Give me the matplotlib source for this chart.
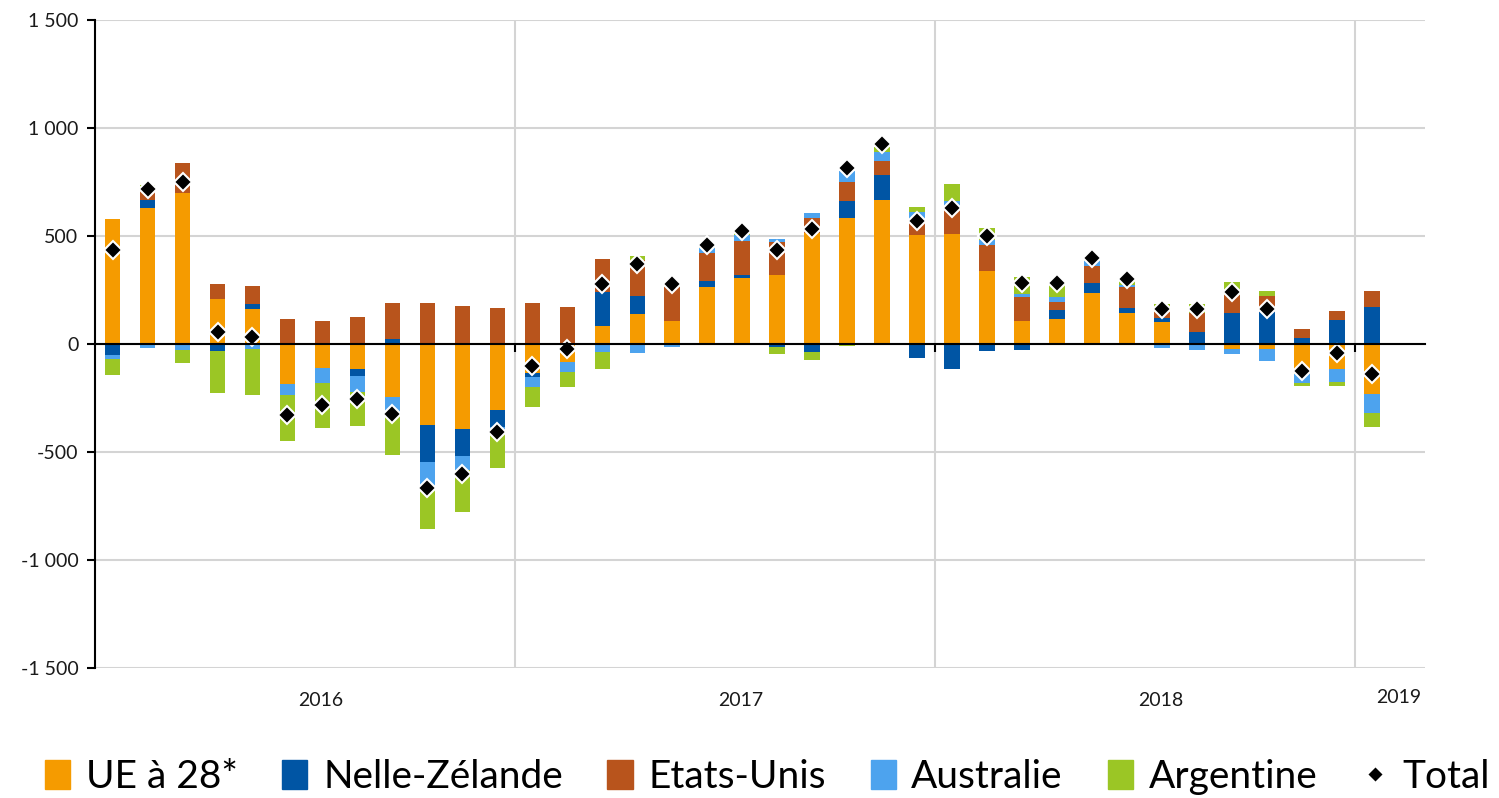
import numpy as np
import matplotlib.pyplot as plt
from matplotlib.patches import Patch
from matplotlib.lines import Line2D

plt.rcParams['font.family'] = ['Lato', 'DejaVu Sans']

# monthly values, Jan 2016 .. Jan 2019
years = ['2016', '2017', '2018', '2019']
ue = [577, 628, 697, 207, 161, -187, -110, -116, -244, -375, -394, -306,
      -136, -82, 85, 139, 106, 265, 304, 319, 512, 585, 667, 505,
      509, 338, 108, 116, 235, 145, 103, -5, -22, -22, -139, -117,
      -231]
nz = [-50, 38, 0, -35, 24, 0, 0, -32, 22, -170, -127, -77,
      -15, 5, 157, 83, 0, 28, 15, -15, -38, 78, 115, -66,
      -116, -31, -28, 41, 46, 20, 16, 57, 145, 150, 29, 111,
      173]
us = [0, 48, 140, 71, 85, 116, 108, 126, 166, 188, 177, 165,
      188, 168, 152, 167, 156, 127, 159, 155, 73, 88, 67, 69,
      118, 120, 108, 36, 80, 100, 30, 85, 82, 72, 40, 43,
      74]
aus = [-20, -20, -30, 0, -25, -49, -72, -73, -69, -115, -62, -23,
       -49, -46, -36, -40, -15, 23, 26, 12, 23, 50, 41, 39,
       35, 23, 14, 26, 23, 8, -18, -23, -24, -57, -43, -57,
       -87]
arg = [-73, 20, -56, -190, -211, -212, -208, -159, -201, -198, -196, -169,
       -90, -70, -81, 18, 25, 15, 20, -31, -36, -8, 23, 23,
       77, 54, 79, 58, 10, 23, 36, 43, 62, 23, -12, -22,
       -65]
total = [435, 717, 751, 54, 34, -329, -282, -255, -324, -668, -602, -409,
         -102, -23, 276, 369, 276, 458, 525, 435, 531, 813, 926, 571,
         631, 501, 281, 284, 400, 299, 162, 160, 242, 162, -125, -40,
         -139]

series = [
    ('UE à 28*', ue, '#F59B00'),
    ('Nelle-Zélande', nz, '#0055A4'),
    ('Etats-Unis', us, '#B8541C'),
    ('Australie', aus, '#4DA3EE'),
    ('Argentine', arg, '#9BC625'),
]

n_slots = 38
x = np.arange(len(ue))

fig = plt.figure(figsize=(14.99, 7.98), dpi=100)
ax = fig.add_axes([0.0634, 0.163, 0.887, 0.812])

pos = np.zeros(len(ue))
neg = np.zeros(len(ue))
for name, vals, col in series:
    v = np.array(vals, dtype=float)
    bottom = np.where(v >= 0, pos, neg)
    ax.bar(x, v, 0.45, bottom=bottom, color=col, zorder=3)
    pos += np.clip(v, 0, None)
    neg += np.clip(v, None, 0)

ax.plot(x, total, 'D', color='black', mec='white', mew=1.5, ms=9, zorder=4)

ax.set_xlim(-0.5, n_slots - 0.5)
ax.set_ylim(-1500, 1500)
yt = np.arange(-1500, 1501, 500)
ax.set_yticks(yt)
ax.set_yticklabels([f'{v:,}'.replace(',', ' ') for v in yt], fontsize=14, color='#1a1a1a')
ax.grid(axis='y', color='#D4D4D4', lw=1.5, zorder=0)

# year boundaries
bounds = [11.5, 23.5, 35.5]
ax.set_xticks(bounds)
ax.set_xticklabels([])
ax.grid(axis='x', color='#D4D4D4', lw=1.5, zorder=0)
ax.spines['bottom'].set_position(('data', 0))
ax.spines['bottom'].set_linewidth(1.5)
ax.spines['bottom'].set_zorder(5)
ax.tick_params(axis='x', length=6, width=1.5, direction='out')
ax.tick_params(axis='y', length=6, width=1.5, direction='out', pad=6)
ax.spines['left'].set_linewidth(1.5)
ax.spines['top'].set_visible(False)
ax.spines['right'].set_visible(False)

centers = [5.95, 17.95, 29.95, 36.75]
for yr, c in zip(years, centers):
    dy = -0.05 if yr != '2019' else -0.045
    ax.text(c, dy, yr, transform=ax.get_xaxis_transform(), ha='center', va='center',
            fontsize=14, color='#1a1a1a')

handles = [Patch(color=col) for _, _, col in series]
handles.append(Line2D([], [], marker='D', color='black', mec='white', ls='none', ms=8))
labels = [name for name, _, _ in series] + ['Total']
fig.legend(handles, labels, loc='lower center', ncol=6, bbox_to_anchor=(0.512, -0.04),
           frameon=False, fontsize=28, handlelength=0.65, handleheight=0.8,
           columnspacing=1.15, handletextpad=0.4)

fig.savefig('out.png', dpi=100)
